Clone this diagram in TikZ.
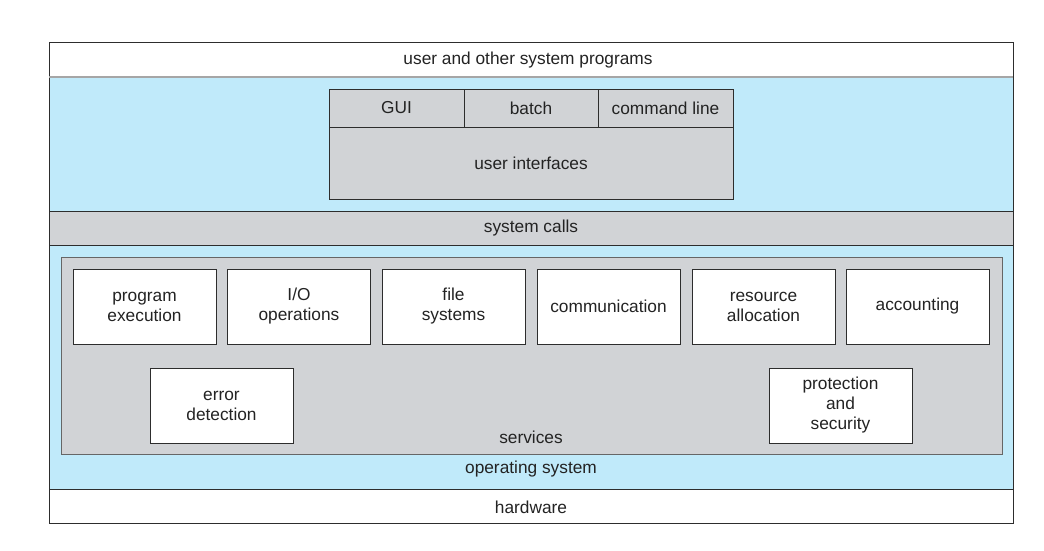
\documentclass[tikz,border=0pt]{standalone}
\usepackage{fontspec}
\setmainfont{Liberation Sans}
\definecolor{osblue}{RGB}{192,234,250}
\definecolor{osgray}{RGB}{209,211,214}
\definecolor{ink}{RGB}{45,45,45}
\definecolor{txt}{RGB}{35,35,35}
\begin{document}
\begin{tikzpicture}[x=1pt,y=-1pt,
  every node/.style={inner sep=0pt, outer sep=0pt, text=txt, font=\fontsize{17.3}{20}\selectfont, align=center},
  band/.style={draw=ink, line width=0.9pt, rectangle, minimum width=964, anchor=north west},
  svc/.style={draw=ink, line width=0.8pt, fill=white, rectangle, minimum width=143, minimum height=75, anchor=north west},
  lbl/.style={draw=none, fill=none}]
\useasboundingbox (0,0) rectangle (1044,550);
\fill[white] (0,0) rectangle (1044,550);
% bands
\node[band, fill=white, minimum height=35] (user) at (49,42) {};
\node[band, fill=osblue, minimum height=134] (ui) at (49,77) {};
\node[band, fill=osgray, minimum height=34] (sys) at (49,211) {};
\node[band, fill=osblue, minimum height=244] (os) at (49,245) {};
\node[band, fill=white, minimum height=34] (hw) at (49,489) {};
\draw[gray!70, line width=1.2pt] (user.south west) -- (user.south east);
% user interface box
\node[draw=ink, line width=0.8pt, fill=osgray, rectangle, minimum width=404, minimum height=110, anchor=north west] (uibox) at (329,89) {};
\coordinate (d1) at (329,127);
\coordinate (d2) at (733,127);
\draw[ink, line width=0.8pt] (d1) -- (d2);
\coordinate (v1t) at (464,89); \coordinate (v1b) at (464,127);
\coordinate (v2t) at (598,89); \coordinate (v2b) at (598,127);
\draw[ink, line width=0.8pt] (v1t) -- (v1b) (v2t) -- (v2b);
% services box
\node[draw=gray!80!black, line width=0.8pt, fill=osgray, rectangle, minimum width=941, minimum height=197, anchor=north west] (services) at (61,257) {};
\node[svc] (pe) at (73,269) {program\\execution};
\node[svc] (io) at (227.5,269) {I/O\\operations};
\node[svc] (fs) at (382,269) {file\\systems};
\node[svc] (comm) at (537,269) {communication};
\node[svc] (ra) at (692,269) {resource\\allocation};
\node[svc] (acc) at (846,269) {accounting};
\node[svc] (err) at (150,368) {error\\detection};
\node[svc] (prot) at (769,368) {protection\\and\\security};
% labels
\node[lbl] at (528,60) {user and other system programs};
\node[lbl] at (396.5,108) {GUI};
\node[lbl] at (531,108) {batch};
\node[lbl] at (665.5,108) {command line};
\node[lbl] at (531,163) {user interfaces};
\node[lbl] at (531,228) {system calls};
\node[lbl] at (531,437) {services};
\node[lbl] at (531,469) {operating system};
\node[lbl] at (531,507) {hardware};
\end{tikzpicture}
\end{document}
